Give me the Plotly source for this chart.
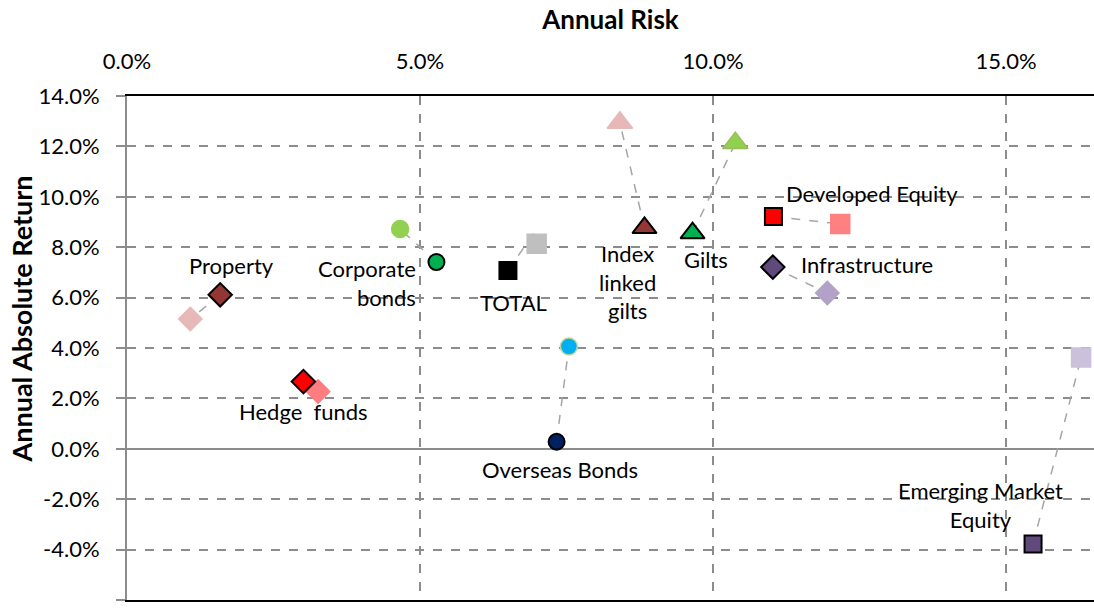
import plotly.graph_objects as go

# ---- data (percent) ----
assets = ["Property", "Hedge funds", "Corporate bonds", "TOTAL", "Overseas Bonds",
          "Index linked gilts", "Gilts", "Developed Equity", "Infrastructure",
          "Emerging Market Equity"]
risk_now = [1.59, 3.01, 5.28, 6.50, 7.33, 8.83, 9.65, 11.03, 11.02, 15.46]
ret_now = [6.11, 2.67, 7.41, 7.08, 0.28, 8.77, 8.56, 9.22, 7.21, -3.78]
risk_prev = [1.08, 3.26, 4.66, 6.99, 7.54, 8.41, 10.38, 12.17, 11.95, 16.28]
ret_prev = [5.15, 2.27, 8.72, 8.14, 4.06, 12.94, 12.13, 8.92, 6.18, 3.62]
# connector end for each asset (toward previous point)
conn_x = [1.08, 3.26, 4.66, 6.98, 7.54, 8.41, 10.38, 12.17, 11.95, 16.28]
conn_y = [5.15, 2.27, 8.72, 8.68, 4.06, 12.94, 12.13, 8.92, 6.18, 3.62]
labels = ["Property", "Hedge  funds", "Corporate<br>bonds", "TOTAL", "Overseas Bonds",
          "Index<br>linked<br>gilts", "Gilts", "Developed Equity", "Infrastructure",
          "Emerging Market<br>Equity"]
x_ticks = [0, 5, 10, 15]
x_ticklabels = ["0.0%", "5.0%", "10.0%", "15.0%"]
y_ticks = [-6, -4, -2, 0, 2, 4, 6, 8, 10, 12, 14]
y_ticklabels = ["-6.0%", "-4.0%", "-2.0%", "0.0%", "2.0%", "4.0%", "6.0%",
                "8.0%", "10.0%", "12.0%", "14.0%"]

# ---- styles ----
symbols = ["diamond", "diamond", "circle", "square", "circle",
           "triangle-up", "triangle-up", "square", "diamond", "square"]
col_now = ["#943634", "#FF0000", "#00B050", "#000000", "#002060",
           "#953735", "#00B050", "#FF0000", "#604A7B", "#604A7B"]
col_prev = ["#E6B9B8", "#FF7C80", "#92D050", "#BFBFBF", "#00B0F0",
            "#E6B9B8", "#92D050", "#FF8080", "#B3A2C7", "#CCC1DA"]
line_prev = ["#E6B9B8", "#FF7C80", "#92D050", "#BFBFBF", "#C3D69B",
             "#E6B9B8", "#9BBB59", "#FF8080", "#B3A2C7", "#CCC1DA"]
size_now = {"diamond": 18, "circle": 16, "square": 17, "triangle-up": 21}
size_prev = {"diamond": 18, "circle": 17, "square": 19, "triangle-up": 22}
shifts = [(11, 29), (0, -30), (-69, -21), (6, -32), (3, -28),
          (-17, -54), (13, -26), (99, 23), (94, 3), (-53, 39)]
aligns = ["center", "center", "right", "center", "center",
          "center", "center", "center", "center", "center"]

FONT = "Lato"
fig = go.Figure()

for i in range(len(assets)):
    fig.add_trace(go.Scatter(
        x=[risk_now[i], conn_x[i]], y=[ret_now[i], conn_y[i]], mode="lines",
        line=dict(color="#A6A6A6", width=1.5, dash="dash"),
        hoverinfo="skip", showlegend=False))

for i in range(len(assets)):
    s = symbols[i]
    fig.add_trace(go.Scatter(
        x=[risk_prev[i]], y=[ret_prev[i]], mode="markers",
        marker=dict(symbol=s, size=size_prev[s], color=col_prev[i],
                    line=dict(color=line_prev[i], width=1.5)),
        name=assets[i] + " (prior)", showlegend=False))

for i in range(len(assets)):
    s = symbols[i]
    fig.add_trace(go.Scatter(
        x=[risk_now[i]], y=[ret_now[i]], mode="markers",
        marker=dict(symbol=s, size=size_now[s], color=col_now[i],
                    line=dict(color="#000000", width=2)),
        name=assets[i], showlegend=False))

for i in range(len(assets)):
    fig.add_annotation(
        x=risk_now[i], y=ret_now[i], text=labels[i], showarrow=False,
        xshift=shifts[i][0], yshift=shifts[i][1], align=aligns[i],
        font=dict(family=FONT, size=22, color="#000000"))

# y-axis title placed like the original (slightly above plot centre)
fig.add_annotation(
    xref="paper", yref="paper", x=-0.1091, y=0.5575, xanchor="center", yanchor="middle",
    text="<b>Annual Absolute Return</b>", textangle=-90, showarrow=False,
    font=dict(family=FONT, size=27, color="#000000"))

fig.update_layout(
    width=1094, height=609,
    margin=dict(l=127, r=0, t=96, b=9),
    paper_bgcolor="white", plot_bgcolor="white",
    font=dict(family=FONT, size=22, color="#000000"),
    xaxis=dict(
        side="top", range=[0, 16.5], tickvals=x_ticks, ticktext=x_ticklabels,
        title=dict(text="<b>Annual Risk</b>", font=dict(size=26, family=FONT), standoff=10),
        showgrid=True, gridcolor="#8C8C8C", gridwidth=1.5, griddash="dash",
        showline=True, linecolor="#000000", linewidth=2, mirror=True,
        zeroline=False, ticks="", ticklabelstandoff=16, tickfont=dict(size=22)),
    yaxis=dict(
        range=[-6, 14], tickvals=y_ticks, ticktext=y_ticklabels,
        showgrid=True, gridcolor="#8C8C8C", gridwidth=1.5, griddash="dash",
        showline=True, linecolor="#8C8C8C", linewidth=2,
        zeroline=True, zerolinecolor="#8C8C8C", zerolinewidth=2,
        ticks="outside", ticklen=9, tickcolor="#8C8C8C", tickwidth=1.5,
        ticklabelstandoff=12, tickfont=dict(size=22)),
)

fig.write_html("out.html")
